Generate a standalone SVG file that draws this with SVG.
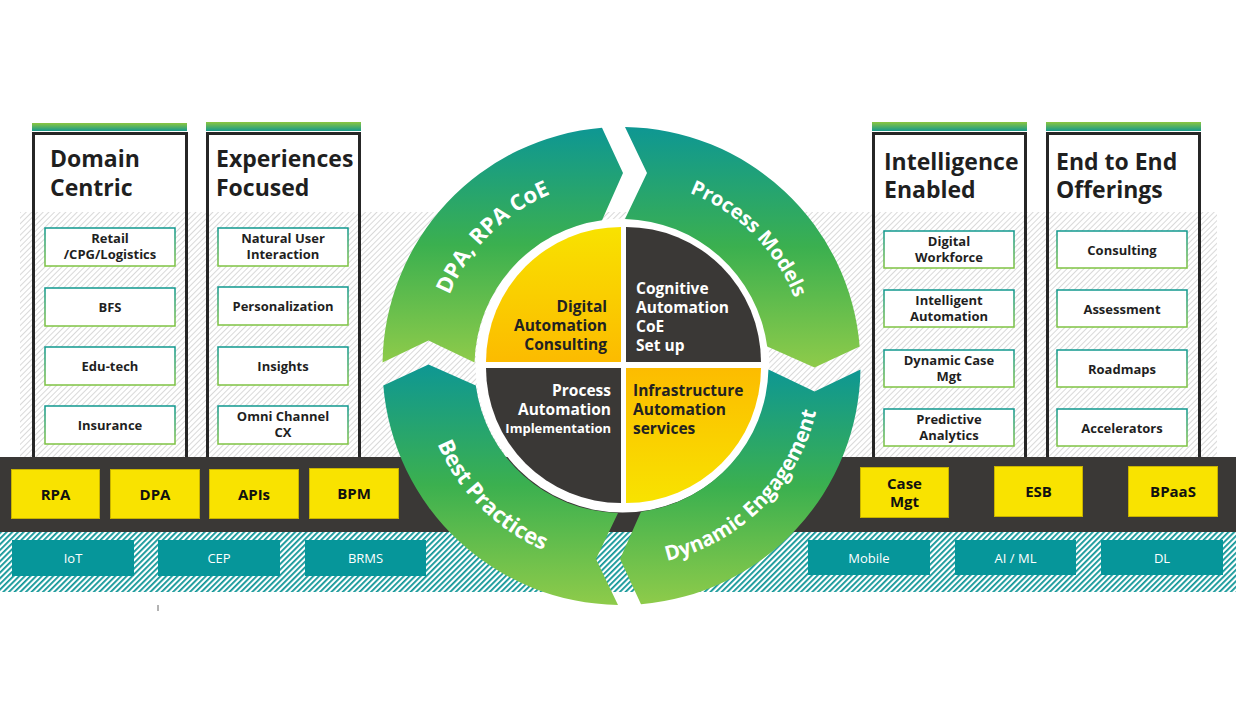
<svg xmlns="http://www.w3.org/2000/svg" width="1236" height="705" viewBox="0 0 1236 705">
<defs>
  <pattern id="hGrey" width="4" height="4" patternUnits="userSpaceOnUse" patternTransform="rotate(45)">
    <rect width="4" height="4" fill="#fff"/>
    <rect width="1" height="4" fill="#d9d9d9"/>
  </pattern>
  <pattern id="hTeal" width="4" height="4" patternUnits="userSpaceOnUse" patternTransform="rotate(45)">
    <rect width="4" height="4" fill="#fff"/>
    <rect width="1.8" height="4" fill="#0f9597"/>
  </pattern>
  <linearGradient id="gRing" x1="0" y1="0" x2="0" y2="1">
    <stop offset="0" stop-color="#0e9793"/>
    <stop offset="0.5" stop-color="#3bb04f"/>
    <stop offset="1" stop-color="#8ecb4a"/>
  </linearGradient>
  <linearGradient id="gBar" x1="0" y1="0" x2="0" y2="1">
    <stop offset="0" stop-color="#8cc63f"/>
    <stop offset="1" stop-color="#16998b"/>
  </linearGradient>
  <linearGradient id="gBox" x1="0" y1="0" x2="0" y2="1">
    <stop offset="0" stop-color="#10988f"/>
    <stop offset="1" stop-color="#7fc342"/>
  </linearGradient>
  <linearGradient id="gYel1" x1="0" y1="0" x2="0" y2="1">
    <stop offset="0" stop-color="#f8e200"/>
    <stop offset="1" stop-color="#fcbb00"/>
  </linearGradient>
  <linearGradient id="gYel2" x1="0" y1="0" x2="0" y2="1">
    <stop offset="0" stop-color="#fcbc00"/>
    <stop offset="1" stop-color="#f8e300"/>
  </linearGradient>
  <style>
    .title{font-family:"Open Sans","Liberation Sans",sans-serif;font-weight:700;font-size:23px;fill:#1f1f1f}
    .sub{font-family:"Open Sans","Liberation Sans",sans-serif;font-weight:700;font-size:13px;fill:#1f1f1f;text-anchor:middle}
    .subbox{fill:#fff;stroke:url(#gBox);stroke-width:1.5}
    .panel{fill:none;stroke:#262626;stroke-width:3}
    .bar{fill:url(#gBar)}
    .yb{fill:#f9e300;stroke:#c8b300;stroke-width:1}
    .yt{font-family:"Open Sans","Liberation Sans",sans-serif;font-weight:700;font-size:15px;fill:#111;text-anchor:middle}
    .tb{fill:#06969a}
    .tt{font-family:"Open Sans","Liberation Sans",sans-serif;font-size:13px;fill:#fff;text-anchor:middle}
    .ring{fill:url(#gRing)}
    .rt{font-family:"Open Sans","Liberation Sans",sans-serif;font-weight:700;fill:#fff}
    .qt{font-family:"Open Sans","Liberation Sans",sans-serif;font-weight:700;font-size:15.5px}
    .qs{font-size:13px}
    .dk{fill:#222}
    .wh{fill:#fff}
  </style>
  <path id="pDPA" d="M 435.5,366 A 186 186 0 0 1 621.5,180"/>
  <path id="pPM" d="M 621.5,180 A 186 186 0 0 1 807.5,366"/>
  <path id="pBP" d="M 421.5,366 A 200 200 0 0 0 621.5,566"/>
  <path id="pDE" d="M 621.5,566 A 200 200 0 0 0 821.5,366"/>
</defs>

<rect width="1236" height="705" fill="#fff"/>

<g id="bands">
  <rect x="20" y="212" width="1197" height="245" fill="url(#hGrey)"/>
</g>

<g id="panel-domain">
  <rect class="bar" x="32" y="123" width="155" height="8"/>
  <rect class="panel" x="33.5" y="133.5" width="153" height="330"/>
  <text class="title" x="50" y="167">Domain</text>
  <text class="title" x="50" y="196">Centric</text>
  <rect class="subbox" x="45" y="228" width="130" height="38"/>
  <text class="sub" x="110" y="243">Retail</text>
  <text class="sub" x="110" y="259">/CPG/Logistics</text>
  <rect class="subbox" x="45" y="288" width="130" height="38"/>
  <text class="sub" x="110" y="312">BFS</text>
  <rect class="subbox" x="45" y="347" width="130" height="38"/>
  <text class="sub" x="110" y="371">Edu-tech</text>
  <rect class="subbox" x="45" y="406" width="130" height="38"/>
  <text class="sub" x="110" y="430">Insurance</text>
</g>

<g id="panel-experiences">
  <rect class="bar" x="206" y="122" width="155" height="9"/>
  <rect class="panel" x="207.5" y="133.5" width="152" height="330"/>
  <text class="title" x="216" y="167">Experiences</text>
  <text class="title" x="216" y="196">Focused</text>
  <rect class="subbox" x="218" y="228" width="130" height="38"/>
  <text class="sub" x="283" y="243">Natural User</text>
  <text class="sub" x="283" y="259">Interaction</text>
  <rect class="subbox" x="218" y="287" width="130" height="38"/>
  <text class="sub" x="283" y="311">Personalization</text>
  <rect class="subbox" x="218" y="347" width="130" height="38"/>
  <text class="sub" x="283" y="371">Insights</text>
  <rect class="subbox" x="218" y="406" width="130" height="38"/>
  <text class="sub" x="283" y="421">Omni Channel</text>
  <text class="sub" x="283" y="437">CX</text>
</g>

<g id="panel-intelligence">
  <rect class="bar" x="872" y="122" width="155" height="9"/>
  <rect class="panel" x="873.5" y="133.5" width="152" height="330"/>
  <text class="title" x="884" y="170">Intelligence</text>
  <text class="title" x="884" y="198">Enabled</text>
  <rect class="subbox" x="884" y="231" width="130" height="37"/>
  <text class="sub" x="949" y="246">Digital</text>
  <text class="sub" x="949" y="262">Workforce</text>
  <rect class="subbox" x="884" y="290" width="130" height="37"/>
  <text class="sub" x="949" y="305">Intelligent</text>
  <text class="sub" x="949" y="321">Automation</text>
  <rect class="subbox" x="884" y="350" width="130" height="37"/>
  <text class="sub" x="949" y="365">Dynamic Case</text>
  <text class="sub" x="949" y="381">Mgt</text>
  <rect class="subbox" x="884" y="409" width="130" height="37"/>
  <text class="sub" x="949" y="424">Predictive</text>
  <text class="sub" x="949" y="440">Analytics</text>
</g>

<g id="panel-endtoend">
  <rect class="bar" x="1046" y="122" width="155" height="9"/>
  <rect class="panel" x="1047.5" y="133.5" width="152" height="330"/>
  <text class="title" x="1056" y="170">End to End</text>
  <text class="title" x="1056" y="198">Offerings</text>
  <rect class="subbox" x="1057" y="231" width="130" height="37"/>
  <text class="sub" x="1122" y="255">Consulting</text>
  <rect class="subbox" x="1057" y="290" width="130" height="37"/>
  <text class="sub" x="1122" y="314">Assessment</text>
  <rect class="subbox" x="1057" y="350" width="130" height="37"/>
  <text class="sub" x="1122" y="374">Roadmaps</text>
  <rect class="subbox" x="1057" y="409" width="130" height="37"/>
  <text class="sub" x="1122" y="433">Accelerators</text>
</g>

<g id="platform-band">
  <rect x="0" y="457" width="1236" height="75" fill="#3a3836"/>
  <rect x="0" y="532" width="1236" height="60" fill="url(#hTeal)"/>
</g>

<g id="yellow-tools">
  <g id="n-rpa"><rect class="yb" x="11.5" y="469.5" width="88" height="49"/><text class="yt" x="55.5" y="500">RPA</text></g>
  <g id="n-dpa"><rect class="yb" x="110.5" y="469.5" width="89" height="49"/><text class="yt" x="155" y="500">DPA</text></g>
  <g id="n-apis"><rect class="yb" x="209.5" y="469.5" width="89" height="49"/><text class="yt" x="254" y="500">APIs</text></g>
  <g id="n-bpm"><rect class="yb" x="309.5" y="468.5" width="89" height="50"/><text class="yt" x="354" y="499">BPM</text></g>
  <g id="n-case"><rect class="yb" x="860.5" y="467.5" width="88" height="50"/><text class="yt" x="904.5" y="489">Case</text><text class="yt" x="904.5" y="507">Mgt</text></g>
  <g id="n-esb"><rect class="yb" x="994.5" y="466.5" width="88" height="50"/><text class="yt" x="1038.5" y="497">ESB</text></g>
  <g id="n-bpaas"><rect class="yb" x="1128.5" y="466.5" width="89" height="50"/><text class="yt" x="1173" y="497">BPaaS</text></g>
</g>

<g id="teal-tech">
  <g id="n-iot"><rect class="tb" x="12" y="540" width="122" height="36"/><text class="tt" x="73" y="563">IoT</text></g>
  <g id="n-cep"><rect class="tb" x="158" y="540" width="122" height="36"/><text class="tt" x="219" y="563">CEP</text></g>
  <g id="n-brms"><rect class="tb" x="305" y="540" width="121" height="36"/><text class="tt" x="365.5" y="563">BRMS</text></g>
  <g id="n-mobile"><rect class="tb" x="808" y="540" width="122" height="35"/><text class="tt" x="869" y="563">Mobile</text></g>
  <g id="n-aiml"><rect class="tb" x="955" y="540" width="121" height="35"/><text class="tt" x="1015.5" y="563">AI / ML</text></g>
  <g id="n-dl"><rect class="tb" x="1101" y="540" width="122" height="35"/><text class="tt" x="1162" y="563">DL</text></g>
</g>

<line x1="158" y1="605" x2="158" y2="611" stroke="#666" stroke-width="1"/>

<g id="cycle">
  <circle cx="622.5" cy="365.5" r="147" fill="#fff"/>
  <g id="seg-dpa">
    <path class="ring" d="M 382.53,362.5 A 239 239 0 0 1 602,127.8 L 623,173 L 602,220.3 A 147 147 0 0 0 474.54,362.5 L 428.5,340.5 Z"/>
    <text class="rt" font-size="22"><textPath href="#pDPA" startOffset="50%" text-anchor="middle">DPA, RPA CoE</textPath></text>
  </g>
  <g id="seg-pm">
    <path class="ring" d="M 625,127.03 A 239 239 0 0 1 859.7,346.5 L 814.5,367.5 L 767.2,346.5 A 147 147 0 0 0 625,219.04 L 647,173 Z"/>
    <text class="rt" font-size="20"><textPath href="#pPM" startOffset="50%" text-anchor="middle">Process Models</textPath></text>
  </g>
  <g id="seg-de">
    <path class="ring" d="M 860.47,369.5 A 239 239 0 0 1 641,604.2 L 620,559 L 641,511.7 A 147 147 0 0 0 768.46,369.5 L 814.5,391.5 Z"/>
    <text class="rt" font-size="20.5"><textPath href="#pDE" startOffset="50%" text-anchor="middle">Dynamic Engagement</textPath></text>
  </g>
  <g id="seg-bp">
    <path class="ring" d="M 618,604.97 A 239 239 0 0 1 383.3,385.5 L 428.5,364.5 L 475.8,385.5 A 147 147 0 0 0 618,512.96 L 596,559 Z"/>
    <text class="rt" font-size="22"><textPath href="#pBP" startOffset="50%" text-anchor="middle">Best Practices</textPath></text>
  </g>

  <g id="q-consulting">
    <path d="M 621,362 L 486,362 A 135 135 0 0 1 621,227 Z" fill="url(#gYel1)"/>
    <text class="qt dk" text-anchor="end" x="607" y="312">Digital</text>
    <text class="qt dk" text-anchor="end" x="607" y="331">Automation</text>
    <text class="qt dk" text-anchor="end" x="607" y="350">Consulting</text>
  </g>
  <g id="q-cognitive">
    <path d="M 626,362 L 626,227 A 135 135 0 0 1 761,362 Z" fill="#3a3836"/>
    <text class="qt wh" x="636" y="294">Cognitive</text>
    <text class="qt wh" x="636" y="313">Automation</text>
    <text class="qt wh" x="636" y="332">CoE</text>
    <text class="qt wh" x="636" y="351">Set up</text>
  </g>
  <g id="q-process">
    <path d="M 621,368 L 621,503 A 135 135 0 0 1 486,368 Z" fill="#3a3836"/>
    <text class="qt wh" text-anchor="end" x="611" y="396">Process</text>
    <text class="qt wh" text-anchor="end" x="611" y="415">Automation</text>
    <text class="qt wh qs" text-anchor="end" x="611" y="433">Implementation</text>
  </g>
  <g id="q-infra">
    <path d="M 626,368 L 761,368 A 135 135 0 0 1 626,503 Z" fill="url(#gYel2)"/>
    <text class="qt dk" x="633" y="396">Infrastructure</text>
    <text class="qt dk" x="633" y="415">Automation</text>
    <text class="qt dk" x="633" y="434">services</text>
  </g>
</g>
<g id="connectors"/>
</svg>
